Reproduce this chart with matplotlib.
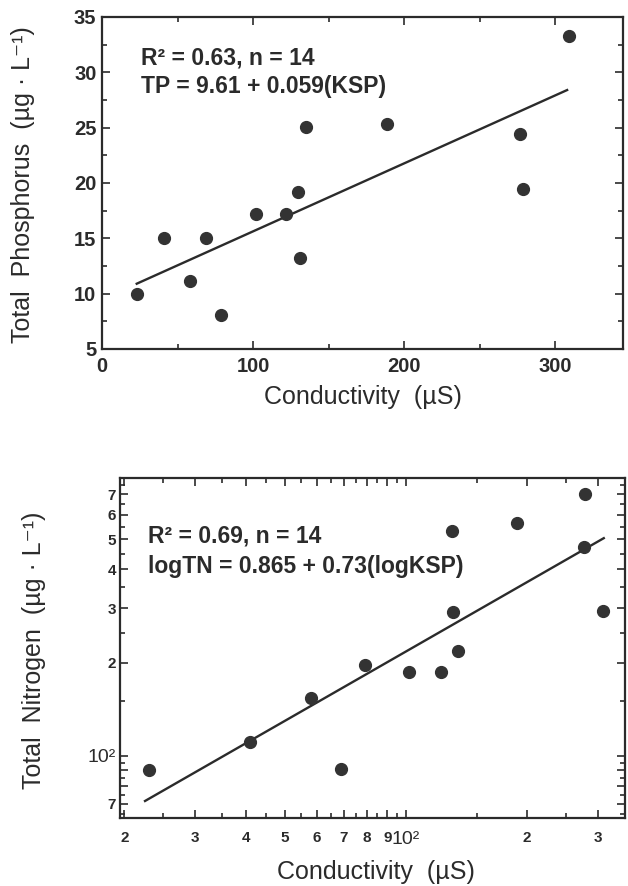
import numpy as np
import matplotlib
matplotlib.use("Agg")
import matplotlib.pyplot as plt
from matplotlib.ticker import FixedLocator, FixedFormatter, NullFormatter

plt.rcParams['font.family'] = ['Liberation Sans', 'DejaVu Sans']

# conductivity of the 14 lakes (uS), shared by both panels
conductivity = [23, 41, 58, 69, 79, 102, 122, 130, 131, 135, 189, 277, 279, 309]
# total phosphorus (ug/L)
tp = [10.0, 15.0, 11.1, 15.0, 8.1, 17.2, 17.2, 19.2, 13.2, 25.1, 25.3, 24.4, 19.5, 33.3]
# total nitrogen (ug/L)
tn = [90, 111, 154, 91, 196, 187, 187, 533, 292, 218, 566, 473, 700, 294]

# regression line ends as drawn
tp_fit_x = [23, 308]
tp_fit_y = [10.9, 28.4]
tn_fit_x = [22.5, 310]
tn_fit_y = [71.5, 505]

tp_ticks = [5, 10, 15, 20, 25, 30, 35]
cond_ticks_lin = [0, 100, 200, 300]
tn_ticks = [60, 70, 80, 90, 100, 200, 300, 400, 500, 600, 700]
tn_labels = ['6', '7', '', '', '10²', '2', '3', '4', '5', '6', '7']
cond_ticks_log = [20, 30, 40, 50, 60, 70, 80, 90, 100, 200, 300]
cond_labels_log = ['2', '3', '4', '5', '6', '7', '8', '9', '10²', '2', '3']

ink = '#2b2b2b'
W, H = 628, 886
fig = plt.figure(figsize=(W / 100, H / 100), dpi=100)


def box(l, t, r, b):
    return [l / W, 1 - b / H, (r - l) / W, (b - t) / H]


def style(ax, size):
    for s in ax.spines.values():
        s.set_linewidth(1.6)
        s.set_color(ink)
    ax.tick_params(which='both', direction='in', top=True, right=True,
                   colors=ink, width=1.2, labelsize=size, pad=4)
    ax.tick_params(which='major', length=6)
    ax.tick_params(which='minor', length=3.5)
    for lab in ax.get_xticklabels() + ax.get_yticklabels():
        lab.set_fontweight('bold')
        if lab.get_text() == '10²':
            lab.set_fontweight('normal')
            lab.set_fontsize(14)


# top panel: linear TP vs conductivity
ax1 = fig.add_axes(box(102, 17, 623, 349))
ax1.plot(tp_fit_x, tp_fit_y, color=ink, lw=1.7)
ax1.plot(conductivity, tp, 'o', color='#333333', ms=8.5, mec='#333333')
ax1.set_xlim(0, 345)
ax1.set_ylim(5, 35)
ax1.set_xticks(cond_ticks_lin)
ax1.set_xticks([50, 150, 250], minor=True)
ax1.set_yticks(tp_ticks)
ax1.set_yticks(np.arange(7.5, 35, 5), minor=True)
style(ax1, 14.5)
ax1.tick_params(axis='x', pad=6)
ax1.text(0.075, 0.875, 'R² = 0.63, n = 14', transform=ax1.transAxes,
         fontsize=16.5, fontweight='bold', color=ink, va='center')
ax1.text(0.075, 0.79, 'TP = 9.61 + 0.059(KSP)', transform=ax1.transAxes,
         fontsize=16.5, fontweight='bold', color=ink, va='center')

# bottom panel: log-log TN vs conductivity
ax2 = fig.add_axes(box(120, 478, 625, 818))
ax2.plot(tn_fit_x, tn_fit_y, color=ink, lw=1.7)
ax2.plot(conductivity, tn, 'o', color='#333333', ms=8.5, mec='#333333')
ax2.set_xscale('log')
ax2.set_yscale('log')
ax2.set_xlim(19.5, 350)
ax2.set_ylim(63, 790)
ax2.yaxis.set_major_locator(FixedLocator(tn_ticks))
ax2.yaxis.set_major_formatter(FixedFormatter(tn_labels))
ax2.yaxis.set_minor_locator(FixedLocator(
    [v for d in (10, 100) for v in np.arange(1, 10, 0.5) * d
     if 63 < v < 790 and v not in tn_ticks]))
ax2.yaxis.set_minor_formatter(NullFormatter())
ax2.xaxis.set_major_locator(FixedLocator(cond_ticks_log))
ax2.xaxis.set_major_formatter(FixedFormatter(cond_labels_log))
ax2.xaxis.set_minor_locator(FixedLocator(
    [v for d in (10, 100) for v in np.arange(1, 10, 0.5) * d
     if 19.5 < v < 350 and v not in cond_ticks_log]))
ax2.xaxis.set_minor_formatter(NullFormatter())
style(ax2, 11)
ax2.tick_params(axis='y', pad=3)
ax2.tick_params(axis='x', pad=9)
ax2.text(0.055, 0.83, 'R² = 0.69, n = 14', transform=ax2.transAxes,
         fontsize=16.5, fontweight='bold', color=ink, va='center')
ax2.text(0.055, 0.74, 'logTN = 0.865 + 0.73(logKSP)', transform=ax2.transAxes,
         fontsize=16.5, fontweight='bold', color=ink, va='center')

# axis titles
fig.text(23 / W, 1 - 185 / H, 'Total  Phosphorus  (µg · L⁻¹)', rotation=90,
         ha='center', va='center', fontsize=18, color=ink)
fig.text(363 / W, 1 - 397 / H, 'Conductivity  (µS)', ha='center',
         va='center', fontsize=18, color=ink)
fig.text(34 / W, 1 - 650 / H, 'Total  Nitrogen  (µg · L⁻¹)', rotation=90,
         ha='center', va='center', fontsize=18, color=ink)
fig.text(376 / W, 1 - 872 / H, 'Conductivity  (µS)', ha='center',
         va='center', fontsize=18, color=ink)

fig.savefig('out.png', dpi=100, facecolor='white')
